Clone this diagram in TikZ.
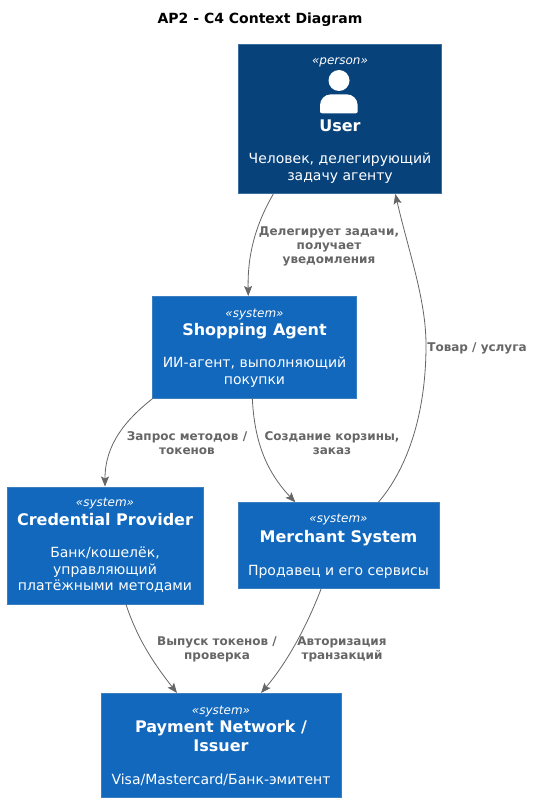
\documentclass[tikz,border=0pt]{standalone}
\usepackage{fontspec}
\setmainfont{DejaVu Sans}
\usetikzlibrary{arrows.meta,positioning}
\definecolor{persfill}{HTML}{08427B}
\definecolor{persline}{HTML}{3C6FA0}
\definecolor{sysfill}{HTML}{1168BD}
\definecolor{sysline}{HTML}{3C7FC0}
\definecolor{relcol}{HTML}{666666}
\tikzset{
  box/.style={rectangle,draw=sysline,fill=sysfill,line width=0.5pt,inner sep=0pt,anchor=north west},
  persbox/.style={box,draw=persline,fill=persfill},
  stereo/.style={text=white,font=\fontsize{12}{14}\selectfont\itshape,inner sep=0pt},
  nm/.style={text=white,font=\fontsize{16}{19}\selectfont\bfseries,inner sep=0pt,align=center},
  desc/.style={text=white,font=\fontsize{14}{16.5}\selectfont,inner sep=0pt,align=center},
  rel/.style={draw=relcol,line width=0.8pt,-{Stealth[length=10pt,width=8pt,inset=2pt]}},
  lab/.style={text=relcol,font=\fontsize{12}{14}\selectfont\bfseries,inner sep=0pt,align=center}
}
\begin{document}
\begin{tikzpicture}[x=1pt,y=-1pt]
\useasboundingbox (0,0) rectangle (534,802);
\fill[white] (0,0) rectangle (534,802);
\node[inner sep=0pt,font=\fontsize{14}{16}\selectfont\bfseries] (title) at (260,20) {AP2 - C4 Context Diagram};
\node[persbox,minimum width=203pt,minimum height=149.5pt] (user) at (238.3,44) {};
\node[box,minimum width=203.5pt,minimum height=101.5pt] (agent) at (152.3,296) {};
\node[box,minimum width=195.5pt,minimum height=117.5pt] (cred) at (7,486.5) {};
\node[box,minimum width=200.5pt,minimum height=85.5pt] (merch) at (238.3,502.3) {};
\node[box,minimum width=239.5pt,minimum height=103.5pt] (pay) at (101,693) {};
% user
\node[stereo] (s1) at (340,62) {«person»};
\fill[white] (339,80.5) circle (10.5pt);
\fill[white] (320,113.3) [rounded corners=2pt] -- (320,113.3) [rounded corners=11pt] -- (320,94.3) -- (357.7,94.3) [rounded corners=2pt] -- (357.7,113.3) -- cycle;
\node[nm] (n1) at (340,126) {User};
\node[desc] (d1) at (340,168) {Человек, делегирующий\\задачу агенту};
% agent
\node[stereo] (s2) at (254.5,315) {«system»};
\node[nm] (n2) at (254.5,331.5) {Shopping Agent};
\node[desc] (d2) at (254.5,372) {ИИ-агент, выполняющий\\покупки};
% credential
\node[stereo] (s3) at (105,504) {«system»};
\node[nm] (n3) at (105,520) {Credential Provider};
\node[desc] (d3) at (105,570) {Банк/кошелёк,\\управляющий\\платёжными методами};
% merchant
\node[stereo] (s4) at (338.5,520) {«system»};
\node[nm] (n4) at (338.5,538) {Merchant System};
\node[desc] (d4) at (338.5,571.5) {Продавец и его сервисы};
% payment
\node[stereo] (s5) at (221,712) {«system»};
\node[nm] (n5) at (221,736.5) {Payment Network /\\Issuer};
\node[desc] (d5) at (221,780) {Visa/Mastercard/Банк-эмитент};
% connectors
\coordinate (bend) at (426,345);
\draw[rel] ([xshift=35pt]user.south west) .. controls +(-15,26) and +(-1,-46) .. ([xshift=96pt]agent.north west);
\draw[rel] ([xshift=140pt]merch.north west) .. controls +(26,-30) and (426,420) .. (bend) .. controls (426,300) and +(14,60) .. ([xshift=157pt]user.south west);
\draw[rel] ([xshift=1pt]agent.south west) .. controls +(-28,22) and +(0,-42) .. ([xshift=98pt]cred.north west);
\draw[rel] ([xshift=100pt]agent.south west) .. controls +(2,42) and +(-30,-32) .. ([xshift=57pt]merch.north west);
\draw[rel] ([xshift=119pt]cred.south west) .. controls +(12,36) and +(-22,-28) .. ([xshift=76pt]pay.north west);
\draw[rel] ([xshift=83pt]merch.south west) .. controls +(-16,42) and +(24,-28) .. ([xshift=160pt]pay.north west);
% labels
\node[lab] (l1) at (329,246) {Делегирует задачи,\\получает\\уведомления};
\node[lab] (l2) at (477,348) {Товар / услуга};
\node[lab] (l3) at (187,443) {Запрос методов /\\токенов};
\node[lab] (l4) at (332,443) {Создание корзины,\\заказ};
\node[lab] (l5) at (217,649) {Выпуск токенов /\\проверка};
\node[lab] (l6) at (342,649) {Авторизация\\транзакций};
\end{tikzpicture}
\end{document}
